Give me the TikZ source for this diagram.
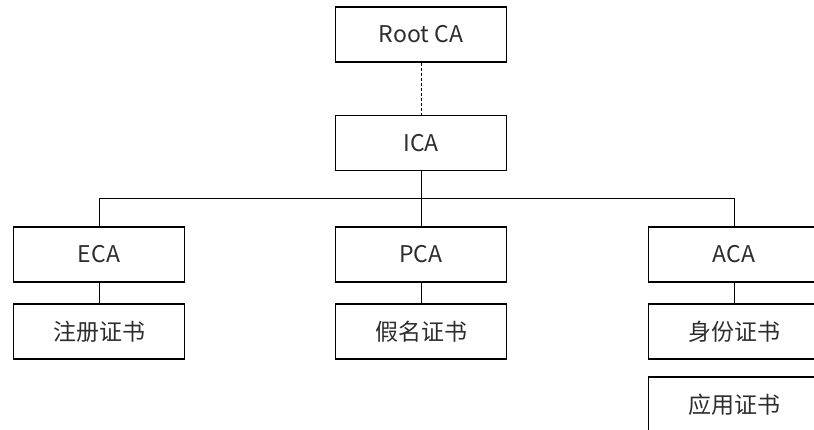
\documentclass[tikz,border=0pt]{standalone}
\usepackage{fontspec}
\setmainfont{Noto Sans CJK SC}
\usepackage{tikz}
\usetikzlibrary{positioning}
\definecolor{textgrey}{RGB}{45,45,45}

\begin{document}
\begin{tikzpicture}[x=1pt,y=1pt,node distance=77pt,on grid,
  ca/.style={draw,line width=1.4pt,minimum width=171pt,minimum height=55pt,
    text=textgrey,font=\fontsize{23}{27}\selectfont},
  link/.style={line width=0.8pt}]
  \useasboundingbox (0,0) rectangle (814,-430);
  \clip (0,0) rectangle (814,-430);
  \node[ca] (root) at (421,-34.5) {Root CA};
  \node[ca] (ica) [below = 108.5pt of root] {ICA};
  \node[ca] (pca) [below = 111.5pt of ica] {PCA};
  \node[ca] (eca) [left = 322pt of pca] {ECA};
  \node[ca] (aca) [right = 313pt of pca] {ACA};
  \node[ca] (ecert) [below = of eca] {注册证书};
  \node[ca] (pcert) [below = of pca] {假名证书};
  \node[ca] (idcert) [below = of aca] {身份证书};
  \node[ca] (appcert) [below = 73pt of idcert] {应用证书};
  \draw[link,dash pattern=on 3pt off 2pt] (root) -- (ica);
  \draw[link] (ica) -- (pca);
  \draw[link] (eca.north) -- ++(0,28) -| (aca.north);
  \draw[link] (eca) -- (ecert);
  \draw[link] (pca) -- (pcert);
  \draw[link] (aca) -- (idcert);
\end{tikzpicture}
\end{document}
